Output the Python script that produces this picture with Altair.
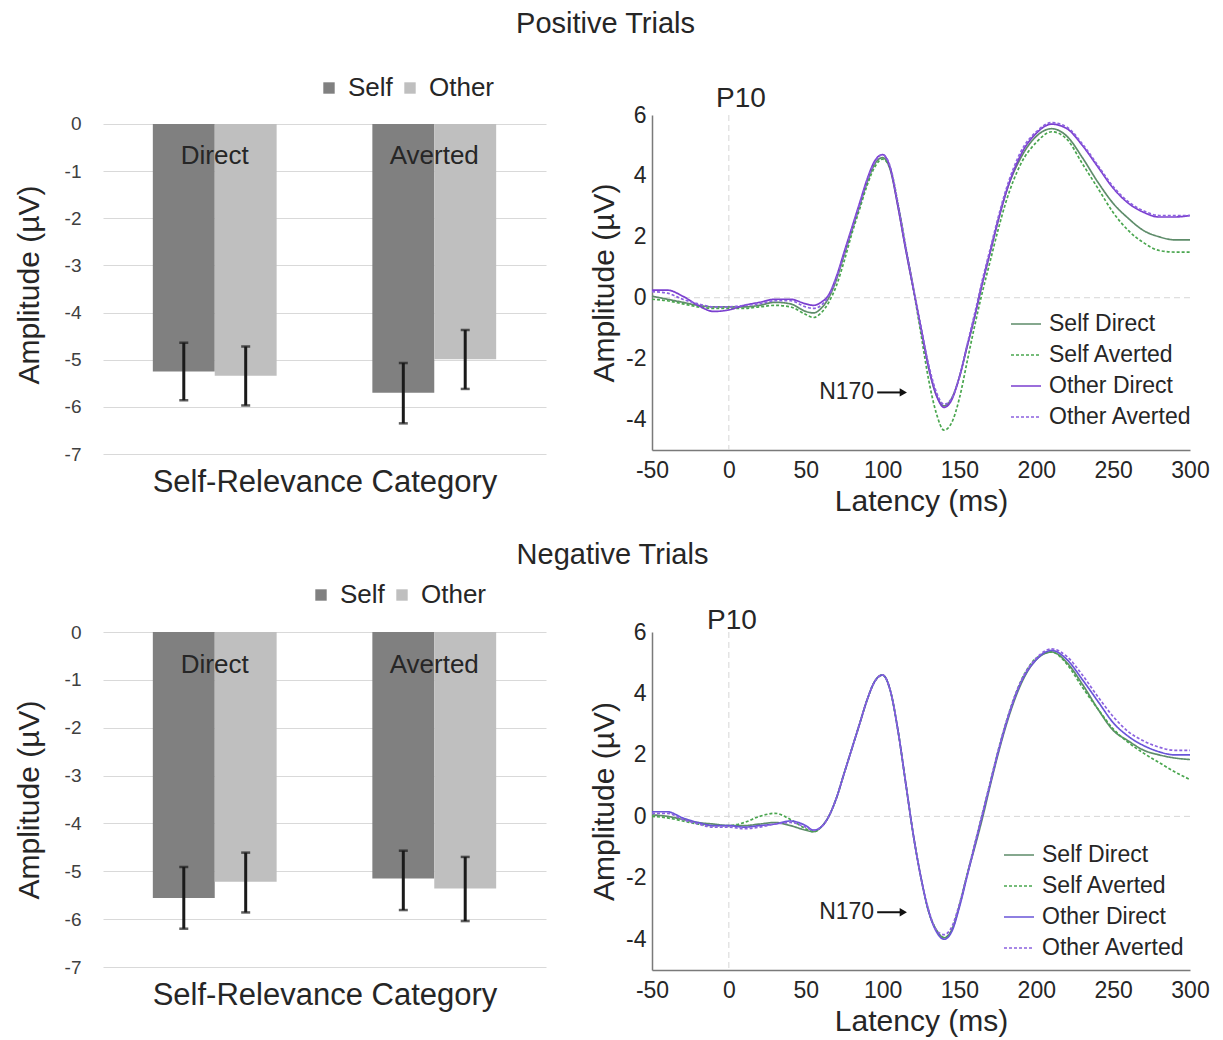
import altair as alt
import pandas as pd

FONT = "Liberation Sans"
TXT = "#262626"

# ---------------- bar-chart data ----------------
gaze_levels = ["Direct", "Averted"]
group_levels = ["Self", "Other"]
group_colors = ["#808080", "#bfbfbf"]
bar_ticks = [0, -1, -2, -3, -4, -5, -6, -7]
category_label_y = [-0.68, -0.68]

pos_self_mean = [-5.25, -5.70]
pos_self_lo = [-5.86, -6.35]
pos_self_hi = [-4.64, -5.07]
pos_other_mean = [-5.34, -4.99]
pos_other_lo = [-5.97, -5.62]
pos_other_hi = [-4.72, -4.37]

neg_self_mean = [-5.56, -5.15]
neg_self_lo = [-6.20, -5.81]
neg_self_hi = [-4.91, -4.57]
neg_other_mean = [-5.22, -5.36]
neg_other_lo = [-5.86, -6.04]
neg_other_hi = [-4.61, -4.70]

# ---------------- ERP waveform data ----------------
conditions = ["Self Direct", "Self Averted", "Other Direct", "Other Averted"]
dashes = [[1, 0], [3, 2], [1, 0], [3, 2]]
pos_colors = ["#5e8c6a", "#4aa64f", "#7b3fcf", "#8c62e0"]
neg_colors = ["#5e8c6a", "#4aa64f", "#6a55d8", "#8c62e0"]
x_ticks = [-50, 0, 50, 100, 150, 200, 250, 300]
y_ticks = [-4, -2, 0, 2, 4, 6]

times = [-50, -40, -30, -20, -10, 0, 10, 20, 30, 40,
         50, 55, 60, 65, 70, 75, 80, 85, 90, 95,
         100, 105, 110, 115, 120, 125, 130, 135, 140, 145,
         150, 155, 160, 165, 170, 175, 180, 190, 200, 210,
         220, 230, 240, 250, 260, 270, 280, 290, 300]

pos_self_direct = [0.05, -0.05, -0.15, -0.25, -0.3, -0.3, -0.3, -0.25, -0.15, -0.2,
                   -0.45, -0.5, -0.35, 0.0, 0.6, 1.4, 2.2, 3.0, 3.8, 4.4,
                   4.6, 4.2, 3.0, 1.6, 0.3, -1.0, -2.3, -3.2, -3.55, -3.3,
                   -2.6, -1.6, -0.6, 0.5, 1.5, 2.5, 3.4, 4.6, 5.3, 5.55,
                   5.3, 4.6, 3.8, 3.1, 2.6, 2.2, 2.0, 1.9, 1.9]
pos_self_averted = [-0.05, -0.1, -0.2, -0.3, -0.35, -0.35, -0.35, -0.3, -0.25, -0.3,
                    -0.55, -0.65, -0.5, -0.15, 0.4, 1.2, 2.1, 2.9, 3.7, 4.3,
                    4.55, 4.25, 3.1, 1.7, 0.3, -1.2, -2.7, -3.8, -4.35, -4.1,
                    -3.3, -2.1, -0.9, 0.2, 1.2, 2.2, 3.1, 4.4, 5.1, 5.45,
                    5.2, 4.4, 3.6, 2.8, 2.2, 1.8, 1.55, 1.5, 1.5]
pos_other_direct = [0.25, 0.25, 0.05, -0.25, -0.45, -0.4, -0.25, -0.15, -0.05, -0.05,
                    -0.2, -0.25, -0.15, 0.1, 0.7, 1.5, 2.3, 3.1, 3.9, 4.5,
                    4.7, 4.25, 3.0, 1.6, 0.3, -1.0, -2.3, -3.2, -3.6, -3.35,
                    -2.6, -1.6, -0.6, 0.5, 1.5, 2.5, 3.4, 4.7, 5.4, 5.7,
                    5.55, 5.0, 4.3, 3.6, 3.1, 2.8, 2.65, 2.65, 2.7]
pos_other_averted = [0.2, 0.15, -0.05, -0.2, -0.3, -0.3, -0.25, -0.2, -0.1, -0.1,
                     -0.3, -0.35, -0.25, 0.05, 0.65, 1.45, 2.25, 3.05, 3.85, 4.45,
                     4.7, 4.3, 3.1, 1.7, 0.35, -0.95, -2.2, -3.1, -3.5, -3.3,
                     -2.6, -1.55, -0.5, 0.6, 1.6, 2.6, 3.5, 4.8, 5.45, 5.75,
                     5.6, 5.05, 4.35, 3.65, 3.15, 2.85, 2.7, 2.7, 2.7]

neg_self_direct = [0.05, 0.0, -0.1, -0.2, -0.25, -0.3, -0.3, -0.25, -0.2, -0.3,
                   -0.45, -0.5, -0.35, 0.0, 0.6, 1.4, 2.2, 3.0, 3.8, 4.4,
                   4.6, 4.1, 2.8, 1.1, -0.6, -2.0, -3.1, -3.7, -3.95, -3.7,
                   -2.9, -1.9, -1.0, -0.05, 1.0, 2.0, 2.9, 4.3, 5.1, 5.35,
                   5.0, 4.3, 3.5, 2.8, 2.45, 2.15, 2.0, 1.9, 1.85]
neg_self_averted = [0.0, -0.05, -0.15, -0.25, -0.3, -0.3, -0.2, 0.0, 0.1, -0.1,
                    -0.4, -0.5, -0.35, 0.0, 0.6, 1.4, 2.2, 3.0, 3.8, 4.4,
                    4.6, 4.1, 2.8, 1.1, -0.6, -2.0, -3.1, -3.7, -3.95, -3.7,
                    -2.9, -1.9, -0.9, 0.1, 1.1, 2.1, 3.0, 4.4, 5.15, 5.35,
                    4.95, 4.2, 3.5, 2.85, 2.4, 2.05, 1.75, 1.45, 1.2]
neg_other_direct = [0.15, 0.15, -0.05, -0.2, -0.3, -0.3, -0.35, -0.3, -0.25, -0.15,
                    -0.3, -0.45, -0.35, 0.0, 0.6, 1.4, 2.2, 3.0, 3.8, 4.4,
                    4.6, 4.1, 2.8, 1.1, -0.6, -2.0, -3.1, -3.75, -4.0, -3.75,
                    -2.95, -1.95, -0.95, 0.05, 1.05, 2.05, 2.95, 4.35, 5.1, 5.4,
                    5.1, 4.45, 3.75, 3.05, 2.6, 2.3, 2.1, 2.0, 2.0]
neg_other_averted = [0.1, 0.1, -0.1, -0.25, -0.35, -0.35, -0.4, -0.35, -0.25, -0.2,
                     -0.35, -0.45, -0.35, 0.0, 0.6, 1.4, 2.2, 3.0, 3.8, 4.4,
                     4.6, 4.1, 2.8, 1.1, -0.6, -2.0, -3.05, -3.7, -3.85, -3.6,
                     -2.85, -1.9, -0.9, 0.1, 1.1, 2.1, 3.0, 4.4, 5.15, 5.45,
                     5.2, 4.6, 3.9, 3.25, 2.75, 2.45, 2.25, 2.15, 2.15]

# N170 annotation (ms, µV)
n170_text_t = 94.5
n170_arrow_t = [96.5, 113.5]
pos_n170_v = -3.11
neg_n170_v = -3.12

BAR_W = 443
LINE_W = 538
HYPHEN_LABEL = "'' + datum.value"
AXIS_GRAY = "#7a7a7a"


def bar_panel(sm, slo, shi, om, olo, ohi, ytop, h, row_title, t_dx, t_dy, lx, ly):
    recs = []
    for i, gz in enumerate(gaze_levels):
        recs.append({"gaze": gz, "group": "Self", "mean": sm[i], "lo": slo[i], "hi": shi[i]})
        recs.append({"gaze": gz, "group": "Other", "mean": om[i], "lo": olo[i], "hi": ohi[i]})
    df = pd.DataFrame(recs)
    xenc = alt.X("gaze:N", sort=gaze_levels,
                 scale=alt.Scale(paddingInner=0.436, paddingOuter=0.227),
                 axis=alt.Axis(labels=False, ticks=False, domain=False,
                               title="Self-Relevance Category", titleFontSize=31,
                               titleFontWeight="normal", titleColor=TXT, titlePadding=13))
    xplain = alt.X("gaze:N", sort=gaze_levels)
    xoff = alt.XOffset("group:N", sort=group_levels,
                       scale=alt.Scale(paddingInner=0, paddingOuter=0))
    yscale = alt.Scale(domain=[-7, ytop], nice=False, zero=False)
    yaxis = alt.Axis(values=bar_ticks, title="Amplitude (µV)", grid=True,
                     gridColor="#d9d9d9", gridWidth=1.2, domain=False, ticks=False,
                     labelFontSize=19, labelColor="#404040", labelPadding=22,
                     labelExpr=HYPHEN_LABEL,
                     titleFontSize=30, titleFontWeight="normal", titleColor=TXT,
                     titlePadding=20)
    color = alt.Color("group:N", sort=group_levels,
                      scale=alt.Scale(domain=group_levels, range=group_colors),
                      legend=alt.Legend(orient="none", legendX=lx, legendY=ly,
                                        direction="horizontal", title=None,
                                        symbolType="square", symbolSize=130,
                                        symbolStrokeWidth=0, labelFontSize=26,
                                        labelColor=TXT, labelOffset=6,
                                        columnPadding=4))
    base = alt.Chart(df)
    bars = base.mark_bar().encode(
        x=xenc, xOffset=xoff,
        y=alt.Y("mean:Q", scale=yscale, axis=yaxis),
        y2=alt.datum(0), color=color)
    rules = base.mark_rule(color="#1a1a1a", strokeWidth=3).encode(
        x=xplain, xOffset=xoff, y="lo:Q", y2="hi:Q")
    cap_lo = base.mark_tick(color="#1a1a1a", thickness=2.5, size=9).encode(
        x=xplain, xOffset=xoff, y="lo:Q")
    cap_hi = base.mark_tick(color="#1a1a1a", thickness=2.5, size=9).encode(
        x=xplain, xOffset=xoff, y="hi:Q")
    labels = alt.Chart(pd.DataFrame({"gaze": gaze_levels, "ly": category_label_y})).mark_text(
        fontSize=26, color=TXT, baseline="middle").encode(x=xplain, y="ly:Q", text="gaze:N")
    return alt.layer(bars, rules, cap_lo, cap_hi, labels).properties(
        width=BAR_W, height=h,
        title=alt.Title(row_title, fontSize=29, fontWeight="normal", color=TXT,
                        anchor="middle", dx=t_dx, dy=t_dy))


def line_panel(series, colors, h, t_dx, t_dy, lx, ly, n_v):
    recs = []
    for cond, vals in zip(conditions, series):
        for t, v in zip(times, vals):
            recs.append({"t": t, "v": v, "cond": cond})
    df = pd.DataFrame(recs)
    xs = alt.Scale(domain=[-50, 300], nice=False, zero=False)
    ys = alt.Scale(domain=[-5, 6], nice=False, zero=False)
    xaxis = alt.Axis(values=x_ticks, title="Latency (ms)", grid=False, ticks=False,
                     domainColor=AXIS_GRAY, domainWidth=1.5, labelFontSize=23,
                     labelColor=TXT, labelPadding=9, labelFlush=False,
                     labelExpr=HYPHEN_LABEL,
                     titleFontSize=30, titleFontWeight="normal", titleColor=TXT,
                     titlePadding=4)
    yaxis = alt.Axis(values=y_ticks, title="Amplitude (µV)", grid=False, ticks=False,
                     domainColor=AXIS_GRAY, domainWidth=1.5, labelFontSize=23,
                     labelColor=TXT, labelPadding=6, labelFlush=False,
                     labelExpr=HYPHEN_LABEL,
                     titleFontSize=30, titleFontWeight="normal", titleColor=TXT,
                     titlePadding=6)
    leg = alt.Legend(orient="none", legendX=lx, legendY=ly, title=None,
                     symbolType="stroke", symbolSize=900, symbolStrokeWidth=1.6,
                     labelFontSize=23, labelColor=TXT, labelOffset=7, rowPadding=3)
    zero_x = alt.Chart(pd.DataFrame({"t": [0]})).mark_rule(
        color="#d6d6d6", strokeDash=[6, 4], strokeWidth=1).encode(
        x=alt.X("t:Q", scale=xs, axis=xaxis))
    zero_y = alt.Chart(pd.DataFrame({"v": [0]})).mark_rule(
        color="#d6d6d6", strokeDash=[6, 4], strokeWidth=1).encode(
        y=alt.Y("v:Q", scale=ys, axis=yaxis))
    lines = alt.Chart(df).mark_line(interpolate="monotone", strokeWidth=1.7).encode(
        x=alt.X("t:Q", scale=xs, axis=xaxis),
        y=alt.Y("v:Q", scale=ys, axis=yaxis),
        color=alt.Color("cond:N", sort=conditions,
                        scale=alt.Scale(domain=conditions, range=colors), legend=leg),
        strokeDash=alt.StrokeDash("cond:N", sort=conditions,
                                  scale=alt.Scale(domain=conditions, range=dashes),
                                  legend=leg))
    ann = alt.Chart(pd.DataFrame({"t": [n170_text_t], "v": [n_v], "label": ["N170"]})).mark_text(
        align="right", baseline="middle", fontSize=23, color=TXT).encode(
        x="t:Q", y="v:Q", text="label:N")
    arrow = alt.Chart(pd.DataFrame({"t": [n170_arrow_t[0]], "t2": [n170_arrow_t[1]], "v": [n_v]})).mark_rule(
        color="#111111", strokeWidth=2).encode(x="t:Q", x2="t2:Q", y="v:Q")
    head = alt.Chart(pd.DataFrame({"t": [n170_arrow_t[1]], "v": [n_v]})).mark_point(
        shape="triangle-right", filled=True, size=70, color="#111111", opacity=1).encode(
        x="t:Q", y="v:Q")
    return alt.layer(zero_x, zero_y, lines, ann, arrow, head).properties(
        width=LINE_W, height=h,
        title=alt.Title("P10", fontSize=28, fontWeight="normal", color=TXT,
                        anchor="start", frame="group", dx=t_dx, dy=t_dy, offset=0))


bar_pos = bar_panel(pos_self_mean, pos_self_lo, pos_self_hi,
                    pos_other_mean, pos_other_lo, pos_other_hi,
                    0.19, 339, "Positive Trials", 281, -32, 213, -40)
line_pos = line_panel([pos_self_direct, pos_self_averted, pos_other_direct, pos_other_averted],
                      pos_colors, 335, 64, 9, 358, 193, pos_n170_v)
bar_neg = bar_panel(neg_self_mean, neg_self_lo, neg_self_hi,
                    neg_other_mean, neg_other_lo, neg_other_hi,
                    0.0, 335, "Negative Trials", 288, -8, 205, -50)
line_neg = line_panel([neg_self_direct, neg_self_averted, neg_other_direct, neg_other_averted],
                      neg_colors, 338, 55, 14, 351, 207, neg_n170_v)

chart = alt.concat(bar_pos, line_pos, bar_neg, line_neg, columns=2).properties(
    spacing={"row": 178, "column": 106}, bounds="flush", align="each",
    padding={"left": 6, "top": 2, "right": 5, "bottom": 5}
).resolve_scale(color="independent", strokeDash="independent"
).resolve_legend(color="independent", strokeDash="independent"
).configure(font=FONT).configure_view(stroke=None)

chart.save("out.html", embed_options={"renderer": "svg", "actions": False})
